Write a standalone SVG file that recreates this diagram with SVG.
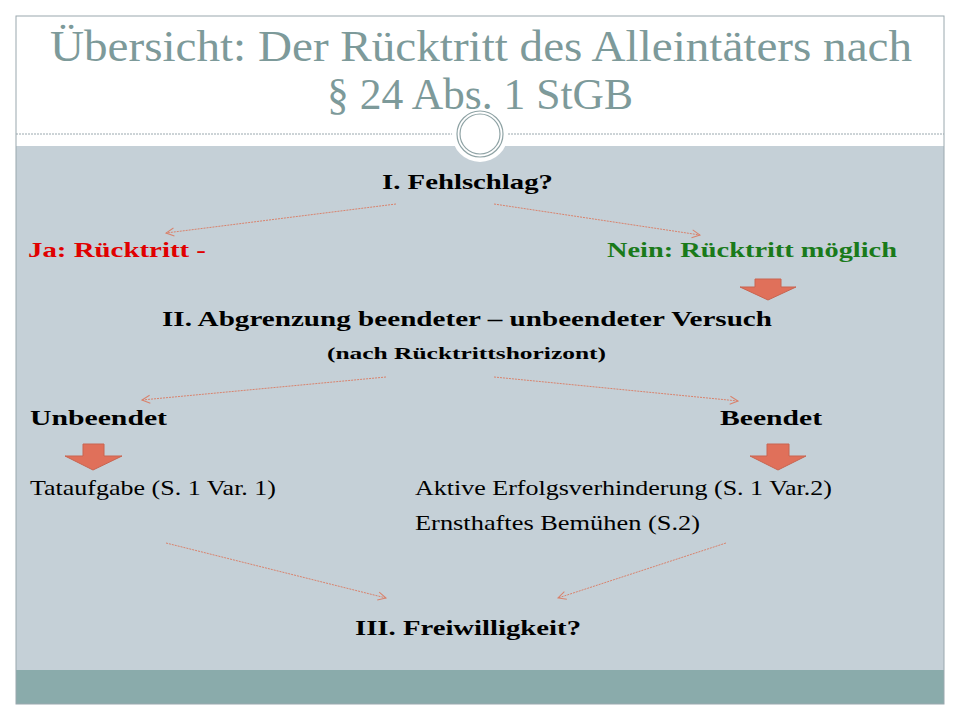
<svg xmlns="http://www.w3.org/2000/svg" width="960" height="720" viewBox="0 0 960 720">
<defs>
<style>
.t{font-family:"Liberation Serif","DejaVu Serif",serif;}
.b{font-weight:bold;font-size:22px;fill:#000}
.n{font-size:22px;fill:#000}
.c{stroke:#d9826c;stroke-width:1;stroke-dasharray:2,1;fill:none;marker-end:url(#ah)}
.blk{fill:#e0705a;stroke:#c86450;stroke-width:1}
</style>
<marker id="ah" markerWidth="10" markerHeight="10" refX="9" refY="5" orient="auto" markerUnits="userSpaceOnUse">
<path d="M1,1 L9,5 L1,9" fill="none" stroke="#d9826c" stroke-width="1"/>
</marker>
</defs>
<rect width="960" height="720" fill="#fff"/>
<rect x="16" y="146" width="928" height="524" fill="#c5d0d7"/>
<rect x="16" y="670" width="928" height="34" fill="#8aabab"/>
<rect x="16" y="16" width="928" height="688" fill="none" stroke="#9aa8ae" stroke-width="1"/>
<line x1="16" y1="134" x2="944" y2="134" stroke="#9aa8ae" stroke-dasharray="2,1"/>
<circle cx="480" cy="134" r="28" fill="#fff"/>
<circle cx="480" cy="134" r="23" fill="none" stroke="#8fa3a5" stroke-width="1.2"/>
<circle cx="480" cy="134" r="20" fill="none" stroke="#8fa3a5" stroke-width="1.2"/>
<g id="title" class="t" fill="#7d9a9a" font-size="44">
<text x="50" y="61" textLength="862" lengthAdjust="spacingAndGlyphs">Übersicht: Der Rücktritt des Alleintäters nach</text>
<text x="327" y="109" textLength="306" lengthAdjust="spacingAndGlyphs">§ 24 Abs. 1 StGB</text>
</g>
<g id="connectors">
<line class="c" x1="396" y1="204" x2="166" y2="233"/>
<line class="c" x1="494" y1="204" x2="700" y2="235"/>
<line class="c" x1="386" y1="377" x2="142" y2="400"/>
<line class="c" x1="494" y1="377" x2="738" y2="401"/>
<line class="c" x1="166" y1="543" x2="386" y2="598"/>
<line class="c" x1="726" y1="543" x2="558" y2="598"/>
<path class="blk" d="M755,279 H781 V287 H796 L768,300 L740,287 H755 Z"/>
<path class="blk" d="M83,444 H104 V456 H122 L93,470 L65,456 H83 Z"/>
<path class="blk" d="M767,444 H789 V456 H806 L778,470 L750,456 H767 Z"/>
</g>
<g id="n1" class="t"><text class="b" x="382" y="189" textLength="171" lengthAdjust="spacingAndGlyphs">I. Fehlschlag?</text></g>
<g id="n2" class="t"><text class="b" x="28" y="257" style="fill:#e00000" textLength="178" lengthAdjust="spacingAndGlyphs">Ja: Rücktritt -</text></g>
<g id="n3" class="t"><text class="b" x="607" y="257" style="fill:#1a7a1a" textLength="290" lengthAdjust="spacingAndGlyphs">Nein: Rücktritt möglich</text></g>
<g id="n4" class="t">
<text class="b" x="162" y="326" textLength="610" lengthAdjust="spacingAndGlyphs">II. Abgrenzung beendeter – unbeendeter Versuch</text>
<text class="b" x="327" y="359" style="font-size:17px" textLength="279" lengthAdjust="spacingAndGlyphs">(nach Rücktrittshorizont)</text>
</g>
<g id="n5" class="t"><text class="b" x="30" y="425" textLength="137" lengthAdjust="spacingAndGlyphs">Unbeendet</text></g>
<g id="n6" class="t"><text class="b" x="720" y="425" textLength="102" lengthAdjust="spacingAndGlyphs">Beendet</text></g>
<g id="n7" class="t"><text class="n" x="30" y="495" textLength="246" lengthAdjust="spacingAndGlyphs">Tataufgabe (S. 1 Var. 1)</text></g>
<g id="n8" class="t">
<text class="n" x="415" y="495" textLength="417" lengthAdjust="spacingAndGlyphs">Aktive Erfolgsverhinderung (S. 1 Var.2)</text>
<text class="n" x="415" y="530" textLength="285" lengthAdjust="spacingAndGlyphs">Ernsthaftes Bemühen (S.2)</text>
</g>
<g id="n9" class="t"><text class="b" x="355" y="635" textLength="226" lengthAdjust="spacingAndGlyphs">III. Freiwilligkeit?</text></g>
</svg>
